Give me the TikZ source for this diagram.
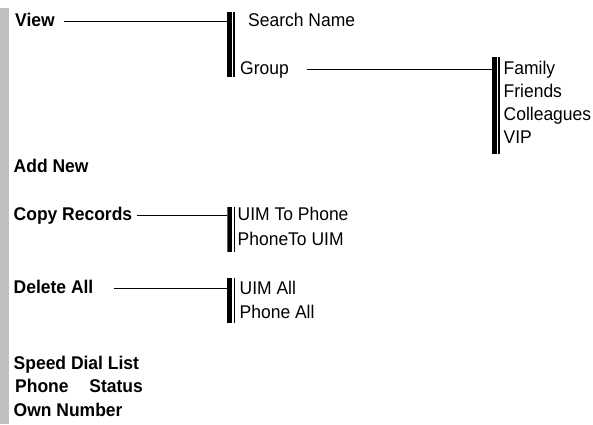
\documentclass[tikz,border=0pt]{standalone}
\usepackage{fontspec}
\setmainfont[FakeStretch=0.95]{Liberation Sans}
\begin{document}
\begin{tikzpicture}[x=1pt,y=-1pt,
  txt/.style={anchor=base west,inner sep=0pt,text height=13pt,text depth=4pt,font=\fontsize{18.4}{22}\selectfont},
  head/.style={txt,font=\fontsize{18.4}{22}\selectfont\bfseries},
  conn/.style={line width=1.7pt},
  dbar/.style={minimum width=8pt,inner sep=0pt,outer sep=0pt,
    path picture={
      \fill ([xshift=-0.1pt]path picture bounding box.south west) rectangle ([xshift=4.8pt]path picture bounding box.north west);
      \fill ([xshift=6.4pt]path picture bounding box.south west) rectangle ([xshift=7.9pt]path picture bounding box.north west);
    }},
  sidebar/.style={fill={rgb,255:red,192;green,192;blue,192}}
]
\useasboundingbox (0,0) rectangle (593,424);
\fill[sidebar] (0,8) rectangle (8.5,424);

% left-hand bold entries
\node[head] (view) at (15,26) {View};
\node[head] (addnew) at (13.5,172.7) {Add New};
\node[head] (copy) at (13.5,220) {Copy Records};
\node[head] (delete) at (13.5,293) {Delete All};
\node[head] (speed) at (13.5,369) {Speed Dial List};
\node[head] (status) at (15,392.3) {Phone\hspace*{20.8pt}Status};
\node[head] (own) at (13.5,416.7) {Own Number};

% double bars
\node[dbar,minimum height=65pt] (bar1) at (231,44.3) {};
\node[dbar,minimum height=97.5pt] (bar2) at (496,105.3) {};
\node[dbar,minimum height=44.5pt] (bar3) at (231.3,229.3) {};
\node[dbar,minimum height=44.7pt] (bar4) at (231.2,300.7) {};

% second-level entries
\node[txt] (search) at (248,26) {Search Name};
\node[txt] (group) at (240,74) {Group};
\node[txt] (family) at (503.5,74) {Family};
\node[txt] (friends) at (503.5,97) {Friends};
\node[txt] (colleagues) at (503.5,120) {Colleagues};
\node[txt] (vip) at (503.5,143) {VIP};
\node[txt] (uimto) at (237.5,220) {UIM To Phone};
\node[txt] (phoneto) at (237.5,245) {PhoneTo UIM};
\node[txt] (uimall) at (239.5,294) {UIM All};
\node[txt] (phoneall) at (239.5,318.5) {Phone All};

% connectors
\draw[conn] ([xshift=9pt]view.east) -- (view.east -| bar1.west);
\draw[conn] ([xshift=18pt]group.east) -- (group.east -| bar2.west);
\draw[conn] ([xshift=5pt]copy.east) -- (copy.east -| bar3.west);
\draw[conn] ([xshift=20pt]delete.east) -- (delete.east -| bar4.west);
\end{tikzpicture}
\end{document}
